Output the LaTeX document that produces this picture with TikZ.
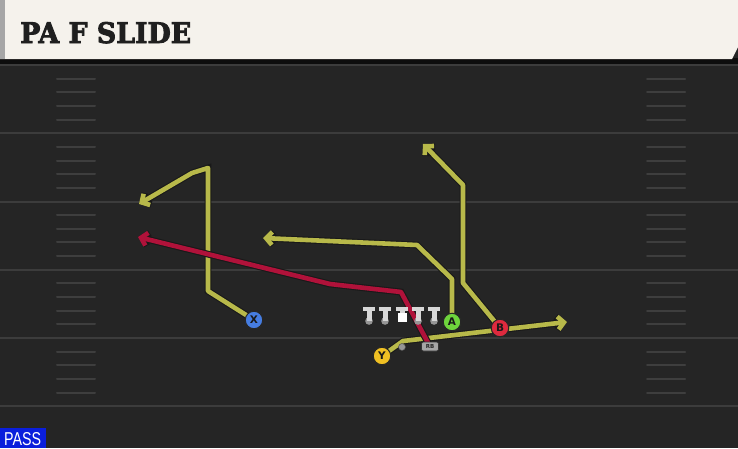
\documentclass[tikz,border=0pt]{standalone}
\usepackage{fontspec}
\setmainfont{DejaVu Serif}
\newfontfamily\titlefont{DejaVu Serif}[BoldFeatures={FakeBold=3}]
\newfontfamily\uisans{DejaVu Sans}
\newfontfamily\passfont{Liberation Sans}
\usetikzlibrary{arrows.meta}
\definecolor{fieldbg}{RGB}{37,37,37}
\definecolor{yardline}{RGB}{60,60,60}
\definecolor{hashc}{RGB}{62,62,62}
\definecolor{cream}{RGB}{245,242,236}
\definecolor{routey}{RGB}{184,185,74}
\definecolor{router}{RGB}{176,18,58}
\definecolor{pblue}{RGB}{70,125,225}
\definecolor{pyellow}{RGB}{240,192,35}
\definecolor{pgreen}{RGB}{110,212,60}
\definecolor{pred}{RGB}{222,42,62}
\definecolor{linegrey}{RGB}{215,215,215}
\definecolor{dotgrey}{RGB}{150,150,150}
\definecolor{passblue}{RGB}{10,30,220}
\pgfdeclarelayer{fieldlayer}
\pgfdeclarelayer{routes}
\pgfsetlayers{fieldlayer,routes,main}
\tikzset{
  yard/.style={draw=yardline, line width=2pt},
  hashmark/.style={draw=hashc, line width=2pt, line cap=round},
  route/.style={line width=4.6pt, line join=round, preaction={draw=black!90, line width=6.8pt}},
  tip/.style={-{Straight Barb[length=6pt,width=13pt,line join=miter]}},
  player/.style={circle, draw=black!85, line width=1pt, minimum size=17.5pt, inner sep=0pt, font=\uisans\bfseries\fontsize{10.5}{10.5}\selectfont, text=black!90},
  rbbox/.style={rounded corners=2pt, fill=black!35!white, draw=black!80, line width=0.6pt, minimum width=17pt, minimum height=9pt, inner sep=0pt, font=\uisans\bfseries\fontsize{5.5}{5.5}\selectfont, text=black!85},
  qbdot/.style={circle, fill=dotgrey, draw=black!70, line width=0.5pt, minimum size=7pt, inner sep=0pt},
  lineman/.pic={
    \fill[dotgrey] (0,14) circle (3.8);
    \fill[linegrey] (-6,0) rectangle (6,4);
    \fill[linegrey] (-2.5,4) rectangle (2.5,14);
  },
  centerman/.pic={
    \fill[linegrey] (-6,0) rectangle (6,4);
    \fill[linegrey] (-2.5,4) rectangle (2.5,7);
    \fill[white] (-4.5,6) rectangle (4.5,15);
  }
}
\begin{document}
\begin{tikzpicture}[x=1pt,y=-1pt]
\useasboundingbox (0,0) rectangle (738,448);
\begin{pgfonlayer}{fieldlayer}
% field
\fill[fieldbg] (0,0) rectangle (738,448);
\foreach \yy in {65,133.25,201.5,269.75,338,406.25}{
  \draw[yard] (0,\yy) -- (738,\yy);
}
\foreach \base in {65,133.25,201.5,269.75,338}{
  \foreach \k in {1,2,3,4}{
    \draw[hashmark] (57,\base+13.65*\k) -- (95,\base+13.65*\k);
    \draw[hashmark] (647,\base+13.65*\k) -- (685,\base+13.65*\k);
  }
}
\end{pgfonlayer}
% title bar
\fill[black!95] (0,58) rectangle (738,64);
\fill[cream] (0,0) -- (738,0) -- (738,47) -- (732,59) -- (0,59) -- cycle;
\fill[black!35] (0,0) rectangle (5,59);
\node[anchor=base west, inner sep=0pt, text=black!88] (title) at (20,43)
  {\resizebox{171pt}{21pt}{\titlefont\bfseries PA F SLIDE}};
% PASS label
\fill[passblue] (0,428) rectangle (46,448);
\node[anchor=base west, inner sep=0pt, text=white] (pass) at (4,445)
  {\resizebox{37pt}{13pt}{\passfont PASS}};
% linemen
\pic at (369,307) {lineman};
\pic at (385,307) {lineman};
\pic at (402,307) {centerman};
\pic at (418,307) {lineman};
\pic at (434,307) {lineman};
% players
\node[qbdot] (QB) at (402,347) {};
\node[rbbox] (RB) at (430,346.5) {RB};
\node[player, fill=pblue] (X) at (254,320) {X};
\node[player, fill=pyellow] (Y) at (382,356) {Y};
\node[player, fill=pgreen] (A) at (452,322) {A};
\node[player, fill=pred] (B) at (500,328) {B};
% route waypoints
\coordinate (x1) at (208,291);
\coordinate (x2) at (208,168);
\coordinate (x3) at (192,173);
\coordinate (xe) at (139,204);
\coordinate (r1) at (401,292);
\coordinate (r2) at (330,284);
\coordinate (re) at (138,237);
\coordinate (a1) at (452,279);
\coordinate (a2) at (417,245);
\coordinate (ae) at (263,238);
\coordinate (b1) at (463,283);
\coordinate (b2) at (463,185);
\coordinate (be) at (423,144);
\coordinate (y1) at (403,341);
\coordinate (ye) at (567,322);
\begin{pgfonlayer}{routes}
\draw[route, routey, tip] (X.center) -- (x1) -- (x2) -- (x3) -- (xe);
\draw[route, routey, tip] (Y.center) -- (y1) -- (ye);
\draw[route, routey, tip] (A.center) -- (a1) -- (a2) -- (ae);
\draw[route, routey, tip] (B.center) -- (b1) -- (b2) -- (be);
\draw[route, router, tip] (RB.center) -- (r1) -- (r2) -- (re);
\end{pgfonlayer}
\end{tikzpicture}
\end{document}
